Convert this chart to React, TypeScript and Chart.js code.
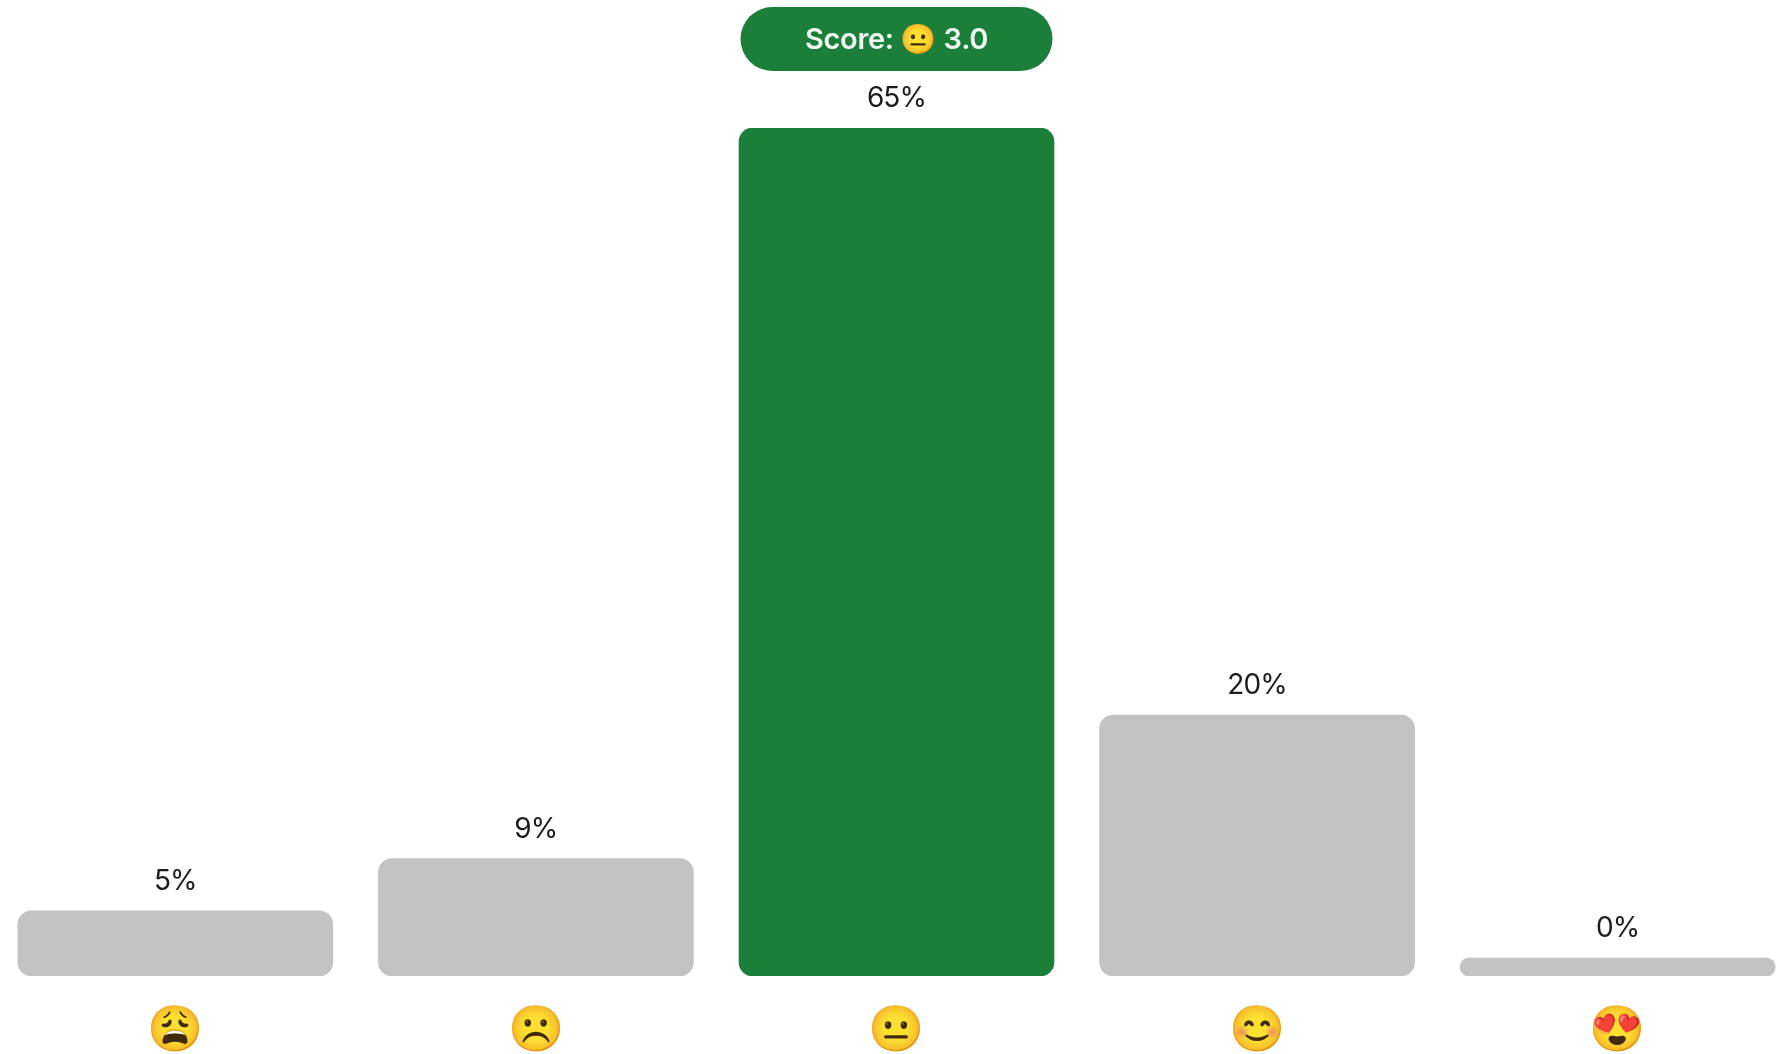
import React, { useEffect, useRef } from "react";
import { Chart, registerables } from "chart.js";

Chart.register(...registerables);

const faces = ["😩", "☹️", "😐", "😊", "😍"];
const shares = [5, 9, 65, 20, 0];
const highlighted = 2;
const scoreText = "Score: 😐 3.0";

const GREEN = "#1B7F3A";
const GREY = "#C3C3C3";
const FONT = "Inter, 'Noto Sans', sans-serif";
const EMOJI_FONT = "'Noto Color Emoji', 'Apple Color Emoji', 'DejaVu Sans', sans-serif";

// Writes each percentage above its bar and the score pill above the tallest one.
const barAnnotations = {
  id: "barAnnotations",
  afterDatasetsDraw(chart: any) {
    const { ctx } = chart;
    const bars = chart.getDatasetMeta(0).data;
    ctx.save();
    ctx.textAlign = "center";
    ctx.textBaseline = "middle";
    ctx.font = `400 28px ${FONT}`;
    ctx.letterSpacing = "-0.9px";
    ctx.fillStyle = "#1c1c1e";
    bars.forEach((bar: any, i: number) => {
      ctx.fillText(`${shares[i]}%`, bar.x, bar.y - 29);
    });

    const top = bars[highlighted];
    const w = 312;
    const h = 64;
    const y = top.y - 121;
    ctx.fillStyle = GREEN;
    ctx.beginPath();
    ctx.roundRect(top.x - w / 2, y, w, h, h / 2);
    ctx.fill();
    ctx.fillStyle = "#F0F8F2";
    ctx.font = `600 29px ${FONT}, ${EMOJI_FONT}`;
    ctx.letterSpacing = "-0.3px";
    ctx.fillText(scoreText, top.x, y + h / 2 + 1);
    ctx.restore();
  },
};

export default function App() {
  const canvasRef = useRef<HTMLCanvasElement | null>(null);

  useEffect(() => {
    document.body.style.margin = "0";
    const chart = new Chart(canvasRef.current!, {
      type: "bar",
      data: {
        labels: faces,
        datasets: [
          {
            data: shares,
            backgroundColor: shares.map((_, i) => (i === highlighted ? GREEN : GREY)),
            barThickness: 315,
            minBarLength: 18,
            borderRadius: 14,
            borderSkipped: false,
          },
        ],
      },
      options: {
        responsive: false,
        animation: false,
        layout: { padding: { left: 0, right: 0, top: 128, bottom: 0 } },
        plugins: { legend: { display: false }, tooltip: { enabled: false } },
        scales: {
          x: {
            grid: { display: false },
            border: { display: false },
            afterFit(scale: any) {
              scale.height = 78;
            },
            ticks: {
              color: "#000",
              padding: 20,
              maxRotation: 0,
              autoSkip: false,
              font: { size: 45, family: EMOJI_FONT },
            },
          },
          y: { display: false, min: 0, max: 65 },
        },
      },
      plugins: [barAnnotations],
    });
    return () => chart.destroy();
  }, []);

  // The outer columns sit slightly closer to the page edge than an even split,
  // so the canvas runs a little wider than the clipped frame around it.
  return (
    <div style={{ position: "relative", width: 1789, height: 1054, overflow: "hidden" }}>
      <canvas
        ref={canvasRef}
        width={1803}
        height={1054}
        style={{ display: "block", position: "absolute", left: -5, top: 0 }}
      />
    </div>
  );
}
